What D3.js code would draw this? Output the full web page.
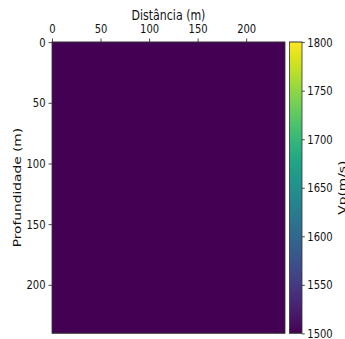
<!DOCTYPE html>
<html>
<head>
<meta charset="utf-8">
<script src="https://cdn.jsdelivr.net/npm/d3@7"></script>
<style>
  html, body { margin: 0; padding: 0; background: #fff; }
  svg { display: block; }
  text { font-family: "DejaVu Sans", sans-serif; fill: #111; }
</style>
</head>
<body>
<svg id="fig" width="345" height="339" viewBox="0 0 345 271.2" preserveAspectRatio="none"></svg>
<script>
// Velocity model: a single homogeneous layer
const distanceExtent = [0, 240];      // m
const depthExtent = [0, 240];         // m
const layerTops = [0];                // m
const layerBottoms = [240];           // m
const layerVp = [1500];               // m/s

const xTicks = [0, 50, 100, 150, 200];
const yTicks = [0, 50, 100, 150, 200];
const vpRange = [1500, 1800];
const vpTicks = [1500, 1550, 1600, 1650, 1700, 1750, 1800];

const svg = d3.select("#fig");

const plot = { left: 52, right: 285, top: 33.6, bottom: 266.6 };
const cbar = { left: 289.5, right: 302 };

const x = d3.scaleLinear().domain(distanceExtent).range([plot.left, plot.right]);
const y = d3.scaleLinear().domain(depthExtent).range([plot.top, plot.bottom]);
const color = d3.scaleSequential(d3.interpolateViridis).domain(vpRange);
const cy = d3.scaleLinear().domain(vpRange).range([plot.bottom, plot.top]);

// model cells
const layers = layerVp.map((v, i) => ({ top: layerTops[i], bottom: layerBottoms[i], vp: v }));
svg.append("g").selectAll("rect").data(layers).join("rect")
  .attr("x", x(distanceExtent[0]))
  .attr("width", x(distanceExtent[1]) - x(distanceExtent[0]))
  .attr("y", d => y(d.top))
  .attr("height", d => y(d.bottom) - y(d.top))
  .attr("fill", d => color(d.vp));

// frame
svg.append("rect")
  .attr("x", plot.left).attr("y", plot.top)
  .attr("width", plot.right - plot.left).attr("height", plot.bottom - plot.top)
  .attr("fill", "none").attr("stroke", "#333").attr("stroke-width", 0.8);

// top axis
const xAxis = svg.append("g").attr("transform", `translate(0,${plot.top})`)
  .call(d3.axisTop(x).tickValues(xTicks).tickSize(2.8).tickPadding(4.2).tickFormat(d3.format("d")));
xAxis.select(".domain").remove();
xAxis.selectAll("line").attr("stroke", "#333").attr("stroke-width", 0.8);
xAxis.selectAll("text").attr("font-size", 10).attr("fill", "#111");

// left axis
const yAxis = svg.append("g").attr("transform", `translate(${plot.left},0)`)
  .call(d3.axisLeft(y).tickValues(yTicks).tickSize(3.5).tickPadding(3).tickFormat(d3.format("d")));
yAxis.select(".domain").remove();
yAxis.selectAll("line").attr("stroke", "#333").attr("stroke-width", 0.8);
yAxis.selectAll("text").attr("font-size", 10).attr("fill", "#111");

// axis titles
svg.append("text")
  .attr("x", (plot.left + plot.right) / 2).attr("y", 15.8)
  .attr("text-anchor", "middle").attr("font-size", 11)
  .text("Distância (m)");
svg.append("text")
  .attr("transform", `translate(20.5,${(plot.top + plot.bottom) / 2}) rotate(-90)`)
  .attr("text-anchor", "middle").attr("font-size", 11)
  .text("Profundidade (m)");

// colorbar
const defs = svg.append("defs");
const grad = defs.append("linearGradient").attr("id", "vpgrad")
  .attr("x1", 0).attr("y1", 1).attr("x2", 0).attr("y2", 0);
d3.range(0, 1.0001, 0.05).forEach(t => {
  grad.append("stop").attr("offset", t).attr("stop-color", d3.interpolateViridis(t));
});
svg.append("rect")
  .attr("x", cbar.left).attr("y", plot.top)
  .attr("width", cbar.right - cbar.left).attr("height", plot.bottom - plot.top)
  .attr("fill", "url(#vpgrad)").attr("stroke", "#333").attr("stroke-width", 0.8);

const cAxis = svg.append("g").attr("transform", `translate(${cbar.right},0)`)
  .call(d3.axisRight(cy).tickValues(vpTicks).tickSize(2.8).tickPadding(2.5).tickFormat(d3.format("d")));
cAxis.select(".domain").remove();
cAxis.selectAll("line").attr("stroke", "#333").attr("stroke-width", 0.8);
cAxis.selectAll("text").attr("font-size", 10).attr("fill", "#111");

svg.append("text")
  .attr("transform", `translate(345.7,${(plot.top + plot.bottom) / 2}) rotate(-90)`)
  .attr("text-anchor", "middle").attr("font-size", 11)
  .text("Vp(m/s)");
</script>
</body>
</html>
